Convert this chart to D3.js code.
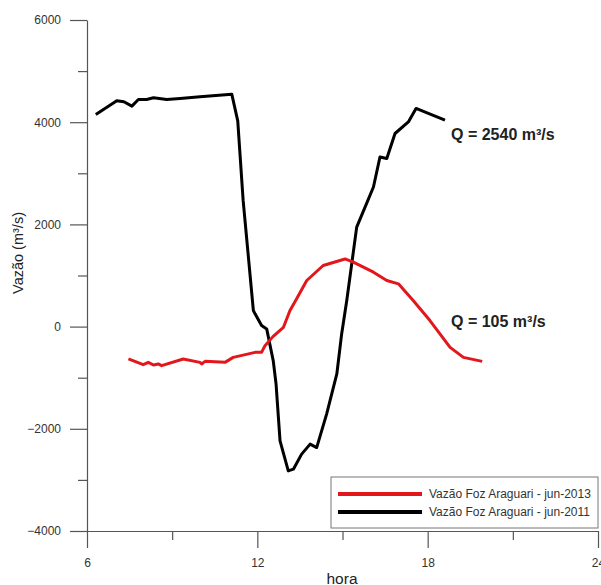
<!DOCTYPE html>
<html>
<head>
<meta charset="utf-8">
<script src="https://cdn.jsdelivr.net/npm/d3@7"></script>
<style>
  html, body { margin: 0; padding: 0; background: #fff; }
  svg { display: block; font-family: "Liberation Sans", Arial, sans-serif; }
</style>
</head>
<body>
<svg id="chart" width="601" height="585"></svg>
<script>
// hourly flow at Foz do Araguari, jun-2011 (black) and jun-2013 (red)
const hours2011 = [6.31, 7.05, 7.30, 7.58, 7.81, 8.10, 8.34, 8.81, 9.28, 9.98, 11.10, 11.31, 11.50,
  11.86, 11.92, 12.15, 12.33, 12.56, 12.66, 12.80, 13.09, 13.27, 13.56, 13.86, 14.09, 14.44, 14.80,
  14.97, 15.15, 15.50, 15.85, 16.09, 16.32, 16.56, 16.85, 17.32, 17.59, 18.61];
const flow2011 = [4150, 4420, 4400, 4315, 4445, 4445, 4477, 4445, 4465, 4496, 4549, 4025, 2470,
  315, 250, 20, -45, -667, -1124, -2235, -2824, -2790, -2496, -2300, -2367, -1712, -927,
  -143, 510, 1947, 2412, 2731, 3320, 3288, 3779, 4006, 4269, 4039];

const hours2013 = [7.46, 7.98, 8.16, 8.34, 8.51, 8.63, 9.39, 9.98, 10.04, 10.16, 10.86, 11.15, 11.92,
  12.15, 12.27, 12.55, 12.92, 13.15, 13.39, 13.74, 14.32, 14.91, 15.09, 15.38, 16.09, 16.56, 16.97,
  17.49, 18.08, 18.79, 19.26, 19.92];
const flow2013 = [-633, -745, -700, -751, -731, -765, -633, -700, -731, -680, -700, -602, -504,
  -504, -373, -196, -14, 314, 549, 902, 1196, 1294, 1324, 1261, 1065, 902, 837,
  510, 118, -406, -602, -680];

const xMajor = [6, 12, 18, 24];
const xMinor = [9, 15, 21];
const yMajor = [-4000, -2000, 0, 2000, 4000, 6000];
const yMinor = [-3000, -1000, 1000, 3000, 5000];

const seriesNames = ["Vazão Foz Araguari - jun-2013", "Vazão Foz Araguari - jun-2011"];
const seriesColors = ["#e3171b", "#000000"];
const notes = ["Q = 2540 m³/s", "Q = 105 m³/s"];

const svg = d3.select("#chart");

const x = d3.scaleLinear().domain([6, 24]).range([87, 598]);
const y = d3.scaleLinear().domain([-4000, 6000]).range([531, 20]);

const axisColor = "#555";

function styleAxis(g) {
  g.selectAll("path, line").attr("stroke", axisColor).attr("stroke-width", 1.2);
  g.selectAll("text").attr("fill", "#333").attr("font-size", 12)
    .attr("font-family", "Liberation Sans, Arial, sans-serif");
}

// x axis
svg.append("g")
  .attr("transform", `translate(0,${y(-4000)})`)
  .call(d3.axisBottom(x).tickValues(xMajor).tickSize(17).tickPadding(10).tickSizeOuter(0))
  .call(styleAxis);
svg.append("g")
  .attr("transform", `translate(0,${y(-4000)})`)
  .call(d3.axisBottom(x).tickValues(xMinor).tickSize(9).tickFormat("").tickSizeOuter(0))
  .call(g => g.select(".domain").remove())
  .call(styleAxis);

// y axis
svg.append("g")
  .attr("transform", `translate(${x(6)},0)`)
  .call(d3.axisLeft(y).tickValues(yMajor).tickFormat(d3.format("d"))
    .tickSize(17).tickPadding(9).tickSizeOuter(0))
  .call(styleAxis);
svg.append("g")
  .attr("transform", `translate(${x(6)},0)`)
  .call(d3.axisLeft(y).tickValues(yMinor).tickSize(9).tickFormat("").tickSizeOuter(0))
  .call(g => g.select(".domain").remove())
  .call(styleAxis);

// axis titles
svg.append("text")
  .attr("x", 342).attr("y", 584)
  .attr("text-anchor", "middle")
  .attr("font-size", 15.5).attr("fill", "#222")
  .text("hora");

svg.append("text")
  .attr("transform", "translate(23,253) rotate(-90)")
  .attr("text-anchor", "middle")
  .attr("font-size", 14.5).attr("fill", "#222")
  .text("Vazão (m³/s)");

// series
const line = d3.line().x(d => x(d[0])).y(d => y(d[1]));

svg.append("path")
  .datum(d3.zip(hours2011, flow2011))
  .attr("fill", "none")
  .attr("stroke", seriesColors[1])
  .attr("stroke-width", 3)
  .attr("stroke-linejoin", "round")
  .attr("d", line);

svg.append("path")
  .datum(d3.zip(hours2013, flow2013))
  .attr("fill", "none")
  .attr("stroke", seriesColors[0])
  .attr("stroke-width", 3)
  .attr("stroke-linejoin", "round")
  .attr("d", line);

// annotations
svg.append("text")
  .attr("x", 451).attr("y", 140)
  .attr("font-size", 16).attr("font-weight", "bold").attr("fill", "#222")
  .text(notes[0]);
svg.append("text")
  .attr("x", 451).attr("y", 327)
  .attr("font-size", 16).attr("font-weight", "bold").attr("fill", "#222")
  .text(notes[1]);

// legend
const legend = svg.append("g");
legend.append("rect")
  .attr("x", 331).attr("y", 477).attr("width", 267).attr("height", 51)
  .attr("fill", "#fff").attr("stroke", "#777").attr("stroke-width", 1);

seriesNames.forEach((name, i) => {
  const ly = 494 + i * 18;
  legend.append("line")
    .attr("x1", 338).attr("x2", 422).attr("y1", ly).attr("y2", ly)
    .attr("stroke", seriesColors[i]).attr("stroke-width", 4);
  legend.append("text")
    .attr("x", 429).attr("y", ly).attr("dy", "0.35em")
    .attr("font-size", 12).attr("fill", "#333")
    .text(name);
});
</script>
</body>
</html>
